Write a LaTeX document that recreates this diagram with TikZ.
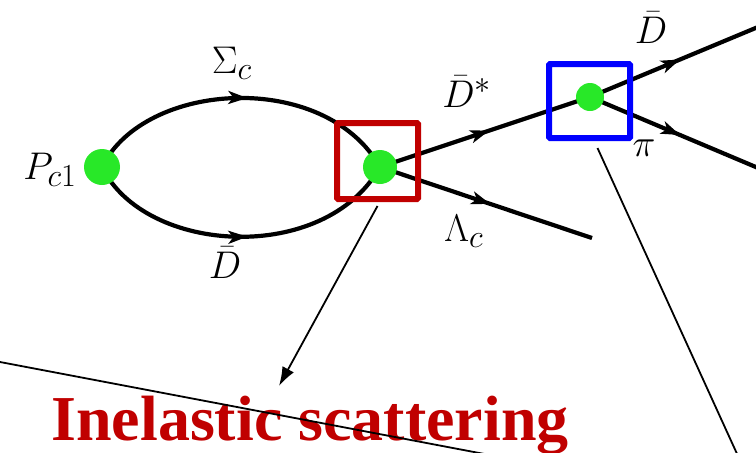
\RequirePackage{fix-cm}
\documentclass[tikz,border=0pt]{standalone}
\usepackage{fontspec}
\newfontfamily\titlefont{Liberation Serif}
\usetikzlibrary{decorations.markings,arrows.meta}
\definecolor{dotgreen}{RGB}{40,232,40}
\definecolor{boxred}{RGB}{192,0,0}
\definecolor{boxblue}{RGB}{0,0,255}
\tikzset{
  vertex/.style={circle,fill=dotgreen,inner sep=0pt},
  prop/.style={line width=4.2pt,
    postaction={decorate,decoration={markings,
      mark=at position #1 with {\arrow{Stealth[length=19pt,width=13pt,inset=5pt]}}}}},
  prop/.default=0.52,
  lbl/.style={font=\Huge,scale=1.55,transform shape},
  hbox/.style={line width=6pt,rounded corners=1pt},
  pointer/.style={line width=1.8pt},
}
\begin{document}
\begin{tikzpicture}[x=1pt,y=-1pt]
\useasboundingbox (0,0) rectangle (756,453);
% vertices
\coordinate (v1) at (102,167);
\coordinate (v2) at (380,167);
\coordinate (v3) at (590,97);
\coordinate (e1) at (770,22);
\coordinate (e2) at (770,173);
\coordinate (e3) at (592,238);
% propagators
\draw[prop] (v1) .. controls (145,80) and (325,70) .. (v2);
\draw[prop] (v1) .. controls (145,255) and (325,265) .. (v2);
\draw[prop] (v2) -- (v3);
\draw[prop] (v2) -- (e3);
\draw[prop=0.5] (v3) -- (e1);
\draw[prop=0.5] (v3) -- (e2);
% dots
\node[vertex,minimum size=36pt] (n1) at (v1) {};
\node[vertex,minimum size=34pt] (n2) at (v2) {};
\node[vertex,minimum size=28pt] (n3) at (v3) {};
% labels
\node[lbl] (lp) at (50,170) {$P_{c1}$};
\node[lbl] (ls) at (232,63) {$\Sigma_c$};
\node[lbl] (ld) at (225,263) {$\bar D$};
\node[lbl] (lds) at (467,92) {$\bar D^*$};
\node[lbl] (ll) at (464,231) {$\Lambda_c$};
\node[lbl] (ld2) at (651,28) {$\bar D$};
\node[lbl] (lpi) at (644,148) {$\pi$};
% highlight boxes
\node[draw=boxred,hbox,minimum width=81pt,minimum height=76pt,inner sep=0pt] (rbox) at (377.5,161) {};
\node[draw=boxblue,hbox,minimum width=81pt,minimum height=74pt,inner sep=0pt] (bbox) at (589.5,101) {};
% title
\node[anchor=base,text=boxred,font=\titlefont\bfseries\fontsize{64}{70}\selectfont,inner sep=0pt] (title) at (310,440) {Inelastic scattering};
% pointers
\coordinate (tip) at (279,386);
\coordinate (bend) at (738,456);
\coordinate (l1) at (0,362);
\coordinate (l2) at (495,456);
\draw[pointer,-{Latex[length=19pt,width=13pt]}] ([yshift=-4pt]rbox.south) -- (tip);
\draw[pointer] ([xshift=8pt,yshift=-7pt]bbox.south) -- (bend);
\draw[pointer] (l1) -- (l2);
\end{tikzpicture}
\end{document}
